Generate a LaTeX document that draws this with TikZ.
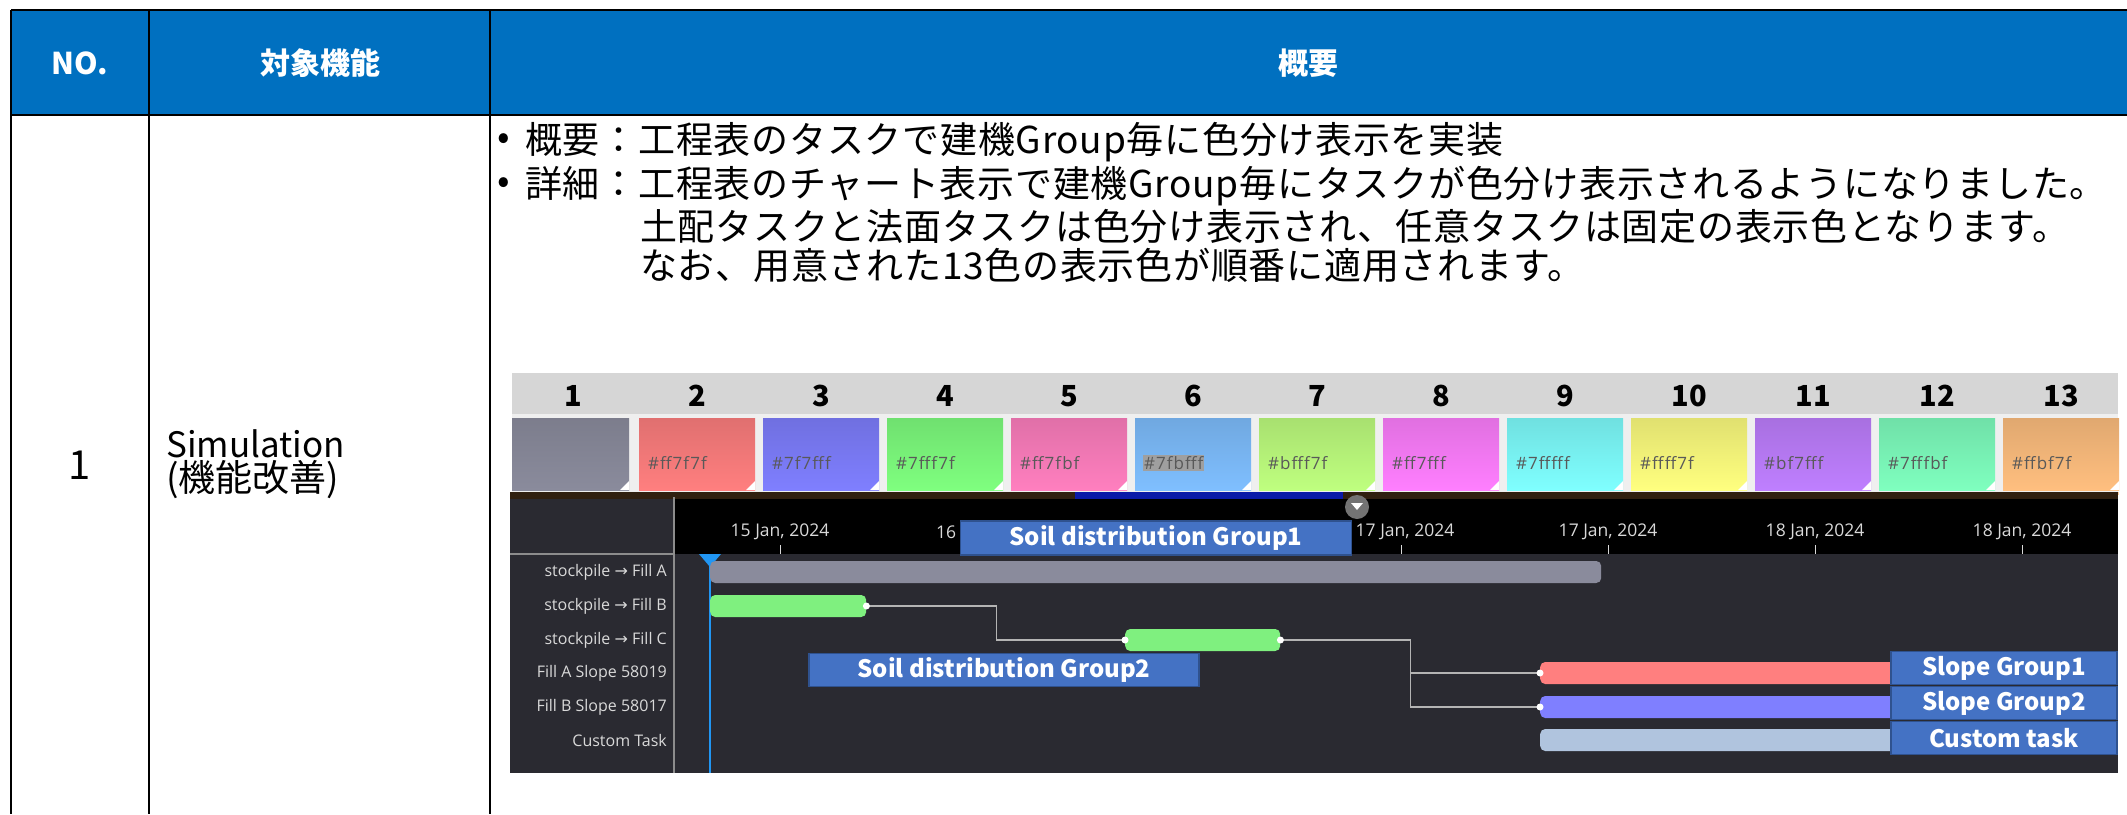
\documentclass[tikz,border=0pt]{standalone}
\usepackage{fontspec}
\setmainfont{Noto Sans CJK JP}
\newfontfamily\chartfont{Open Sans}
\newfontfamily\arrowfont{DejaVu Sans}

\definecolor{hdrblue}{HTML}{0070C0}
\definecolor{tagblue}{HTML}{4472C4}
\definecolor{tagedge}{HTML}{2F528F}
\definecolor{panel}{HTML}{2A2A31}
\definecolor{stripgray}{HTML}{D6D6D6}
\definecolor{stripwhite}{HTML}{EFEFEF}
\definecolor{sepgray}{HTML}{8C8C8C}
\definecolor{rowgray}{HTML}{D9D9D9}
\definecolor{linkgray}{HTML}{B4B4B4}
\definecolor{markblue}{HTML}{2196F3}
\definecolor{nightblue}{HTML}{0A1AA8}
\definecolor{taskgray}{HTML}{8A8B9C}
\definecolor{soilgreen}{HTML}{7FF07F}
\definecolor{slopered}{HTML}{FF7F7F}
\definecolor{slopeblue}{HTML}{7F7FFF}
\definecolor{customblue}{HTML}{B0C4DE}

\begin{document}
\begin{tikzpicture}[x=1pt, y=-1pt,
    hdrtext/.style={text=white, font=\bfseries\fontsize{30}{34}\selectfont},
    celltext/.style={anchor=west, inner sep=0pt, font=\fontsize{37}{40}\selectfont},
    bodytext/.style={anchor=west, inner sep=0pt,
        font=\fontsize{37}{40}\selectfont\addfontfeatures{LetterSpace=2}},
    tagbox/.style={fill=tagblue, draw=tagedge, line width=1.5pt, text=white,
        inner sep=0pt, font=\bfseries\fontsize{24}{26}\selectfont},
    rowlabel/.style={anchor=east, inner sep=0pt, text=rowgray,
        font=\chartfont\fontsize{16}{18}\selectfont},
    datelabel/.style={inner sep=0pt, text=rowgray,
        font=\chartfont\fontsize{17.5}{19}\selectfont},
    taskbar/.style={rounded corners=5pt, inner sep=0pt, minimum height=22pt},
    link/.style={draw=linkgray, line width=1.5pt}]

    \useasboundingbox (0,0) rectangle (2127,814);
    \fill[white] (0,0) rectangle (2127,814);

    % Header
    \fill[hdrblue] (11,10) rectangle (2127,115);
    \node[hdrtext] (no)   at (80,63)   {NO.};
    \node[hdrtext] (func) at (320,63)  {対象機能};
    \node[hdrtext] (summ) at (1308,63) {概要};

    % Grid
    \draw[line width=2.5pt] (11,10)  -- (2127,10);
    \draw[line width=2.5pt] (11,115) -- (2127,115);
    \draw[line width=2.5pt] (11,10)  -- (11,814);
    \draw[line width=2.5pt] (149,10) -- (149,814);
    \draw[line width=2.5pt] (490,10) -- (490,814);

    % Row 1
    \node[font=\fontsize{40}{44}\selectfont] (num) at (80,465) {1};
    \node[celltext, font=\fontsize{35}{40}\selectfont] (sim) at (166,444) {Simulation};
    \node[celltext] (impr) at (166,480) {(機能改善)};

    \node[bodytext] (dot1)  at (497,142) {•};
    \node[bodytext] (line1) at (525,142) {概要：工程表のタスクで建機Group毎に色分け表示を実装};
    \node[bodytext] (dot2)  at (497,186) {•};
    \node[bodytext] (line2) at (525,186) {詳細：工程表のチャート表示で建機Group毎にタスクが色分け表示されるようになりました。};
    \node[bodytext] (line3) at (640,226) {土配タスクと法面タスクは色分け表示され、任意タスクは固定の表示色となります。};
    \node[bodytext] (line4) at (640,265) {なお、用意された13色の表示色が順番に適用されます。};

    % Palette
    \fill[stripgray]  (512,373) rectangle (2118,414);
    \fill[stripwhite] (512,414) rectangle (2118,497);
    \foreach \i in {1,...,13}
        \node[font=\bfseries\fontsize{29}{31}\selectfont] (n\i) at (573+124*\i-124,396) {\i};
    \shade[top color=taskgray!90!black, bottom color=taskgray] (512,418) rectangle (629,490);
    \fill[white] (629,490) -- (629,481) -- (620,490) -- cycle;
    \foreach \i/\hex/\hl in {2/ff7f7f/none, 3/7f7fff/none, 4/7fff7f/none, 5/ff7fbf/none,
            6/7fbfff/gray!75, 7/bfff7f/none, 8/ff7fff/none, 9/7fffff/none, 10/ffff7f/none,
            11/bf7fff/none, 12/7fffbf/none, 13/ffbf7f/none} {
        \definecolor{swatch}{HTML}{\hex}
        \pgfmathsetmacro\cx{573+124*\i-124}
        \shade[top color=swatch!88!black, bottom color=swatch] (\cx-58,418) rectangle (\cx+58,490);
        \fill[swatch!75] (\cx-58,492) rectangle (\cx+58,495);
        \fill[white] (\cx+58,490) -- (\cx+58,481) -- (\cx+49,490) -- cycle;
        \node[anchor=west, fill=\hl, inner sep=1pt, text=black!65,
            font=\chartfont\fontsize{17}{19}\selectfont\addfontfeatures{LetterSpace=6}] (hex\i) at (\cx-50,463) {\#\hex};
    }

    % Gantt frame
    \fill[panel] (510,497) rectangle (2118,773);
    \fill[black] (674,497) rectangle (2118,554);
    \fill[black!75!brown] (510,492) rectangle (2118,499);
    \fill[nightblue] (1075,492) rectangle (1343,499);
    \draw[sepgray, line width=1.5pt] (510,554) -- (674,554);
    \draw[sepgray, line width=1.5pt] (674,497) -- (674,773);

    % Time axis
    \foreach \t in {780,987,1194,1401,1608,1815,2022}
        \draw[rowgray, line width=1pt] (\t,545) -- (\t,554);
    \node[datelabel] (d1) at (780,532)  {15 Jan, 2024};
    \node[datelabel, anchor=west] (d2) at (936,532) {16};
    \node[datelabel] (d3) at (1405,532) {17 Jan, 2024};
    \node[datelabel] (d4) at (1608,532) {17 Jan, 2024};
    \node[datelabel] (d5) at (1815,532) {18 Jan, 2024};
    \node[datelabel] (d6) at (2022,532) {18 Jan, 2024};

    % Row labels
    \node[rowlabel] (rA) at (667,572) {stockpile {\arrowfont →} Fill A};
    \node[rowlabel] (rB) at (667,606) {stockpile {\arrowfont →} Fill B};
    \node[rowlabel] (rC) at (667,640) {stockpile {\arrowfont →} Fill C};
    \node[rowlabel] (rD) at (667,673) {Fill A Slope 58019};
    \node[rowlabel] (rE) at (667,707) {Fill B Slope 58017};
    \node[rowlabel] (rF) at (667,740) {Custom Task};

    % Now marker
    \draw[markblue, line width=2pt] (710,560) -- (710,773);
    \fill[markblue] (699,554) -- (721,554) -- (710,567) -- cycle;

    % Bars
    \node[taskbar, fill=taskgray,   minimum width=891pt, anchor=west] (barA)  at (710,572)  {};
    \node[taskbar, fill=soilgreen,  minimum width=156pt, anchor=west] (barB)  at (710,606)  {};
    \node[taskbar, fill=soilgreen,  minimum width=155pt, anchor=west] (barC)  at (1125,640) {};
    \node[taskbar, fill=slopered,   minimum width=360pt, anchor=west] (barS1) at (1540,673) {};
    \node[taskbar, fill=slopeblue,  minimum width=360pt, anchor=west] (barS2) at (1540,707) {};
    \node[taskbar, fill=customblue, minimum width=360pt, anchor=west] (barT)  at (1540,740) {};

    % Links
    \draw[link] (barB.east) -- ++(130,0) |- (barC.west);
    \draw[link] (barC.east) -- ++(130,0) |- (barS1.west);
    \draw[link] (barC.east) -- ++(130,0) |- (barS2.west);
    \fill[white] (barB.east)  circle (3.5pt);
    \fill[white] (barC.west)  circle (3.5pt);
    \fill[white] (barC.east)  circle (3.5pt);
    \fill[white] (barS1.west) circle (3.5pt);
    \fill[white] (barS2.west) circle (3.5pt);

    % Group tags
    \node[tagbox, minimum width=391pt, minimum height=34pt] (soil1)  at (1156,538) {Soil distribution Group1};
    \node[tagbox, minimum width=390pt, minimum height=33pt] (soil2)  at (1004,670) {Soil distribution Group2};
    \node[tagbox, minimum width=226pt, minimum height=33pt] (slope1) at (2004,668) {Slope Group1};
    \node[tagbox, minimum width=226pt, minimum height=33pt] (slope2) at (2004,703) {Slope Group2};
    \node[tagbox, minimum width=226pt, minimum height=33pt] (custom) at (2004,738) {Custom task};

    % Drop-down knob
    \fill[black!55] (1357,507) circle (12pt);
    \fill[white] (1351,503) -- (1363,503) -- (1357,510) -- cycle;
\end{tikzpicture}
\end{document}
